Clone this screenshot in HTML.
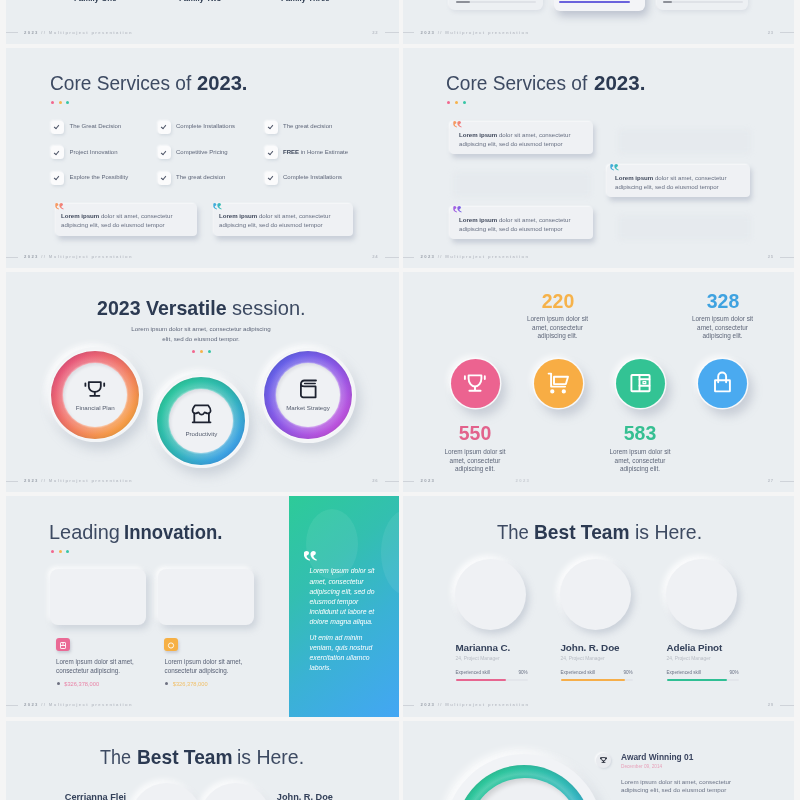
<!DOCTYPE html>
<html><head><meta charset="utf-8">
<style>
*{margin:0;padding:0;box-sizing:border-box}
html,body{width:800px;height:800px;overflow:hidden;background:#f5f5f5}
body{position:relative;font-family:"Liberation Sans",Arial,sans-serif;color:#3a475e}
.s{position:absolute;width:392.5px;height:220px;background:#eaeef1;overflow:hidden}
.L{left:6px}.R{left:402.5px;width:391.5px}
.a{position:absolute;white-space:nowrap}
.ttl{font-size:20.5px;color:#3d4a62;letter-spacing:0;transform-origin:0 0}
.ttl b{color:#2c3a52}
.ttl{line-height:1}
.tb{font-weight:bold;color:#2c3a52}
.dots{position:absolute;height:3px}
.dots i{position:absolute;top:0;width:3px;height:3px;border-radius:50%}
.ft{position:absolute;left:0;right:0;height:8px}
.ft .l1{position:absolute;left:-3px;top:3.6px;width:14.5px;height:0.8px;background:#cfd3d9}
.ft .l2{position:absolute;right:0;top:3.6px;width:14px;height:0.8px;background:#cfd3d9}
.ft .tx{position:absolute;left:18px;top:0;font-size:4.2px;font-weight:bold;letter-spacing:1.36px;color:#bcc0c8;line-height:8px}
.ft .tx b{color:#9ba1ab}
.ft .pn{position:absolute;right:20px;top:0;font-size:4.2px;font-weight:bold;color:#bcc0c8;line-height:8px;letter-spacing:0.8px}
.sm{font-size:5.3px;color:#6c7488;line-height:8.7px}

.ck{position:absolute;width:13px;height:13px;border-radius:3.5px;background:#fbfbfc;box-shadow:1px 1.5px 3px rgba(170,180,195,.35),-1px -1px 2px rgba(255,255,255,.8)}
.ck:after{content:"";position:absolute;left:4.8px;top:3.6px;width:2.2px;height:4px;border:solid #50576a;border-width:0 1.1px 1.1px 0;transform:rotate(40deg)}
.ckt{position:absolute;font-size:6px;color:#5f677a;white-space:nowrap;line-height:13px}
.ckt b{color:#3a4458}
.qc{position:absolute;border-radius:4px;background:#eff1f4;box-shadow:2px 3.5px 5px rgba(145,155,175,.38),-1px -1px 2px rgba(255,255,255,.9)}
.qm{position:absolute;font-family:"Liberation Serif",serif;font-weight:bold;font-size:21px;line-height:21px;letter-spacing:-1.2px;transform:scaleX(-1);-webkit-background-clip:text;background-clip:text;-webkit-text-fill-color:transparent}
.qt{position:absolute;font-size:6.1px;line-height:9.4px;color:#666e81;white-space:nowrap}
.qt b{color:#3e475a}

.cw{position:absolute;border-radius:50%}
.cw .o{position:absolute;left:-47.5px;top:-47.5px;width:95px;height:95px;border-radius:50%;background:#f3f5f7;box-shadow:4px 7px 12px rgba(150,160,178,.36),-3px -3px 6px rgba(255,255,255,.9)}
.cw .r{position:absolute;left:-44px;top:-44px;width:88px;height:88px;border-radius:50%;box-shadow:0 0 1.5px 1px rgba(255,255,255,.5)}
.cw .n{position:absolute;left:-32px;top:-32px;width:64px;height:64px;border-radius:50%;background:#eff1f4;box-shadow:inset 1.5px 2px 3px rgba(60,60,90,.10),0 0 2px 1px rgba(255,255,255,.55)}
.cw .lb{position:absolute;left:-30px;width:60px;text-align:center;font-size:6.2px;color:#555d6e;top:10px;line-height:5px}
.cw svg{position:absolute}
.sub{position:absolute;font-size:6.2px;color:#5e6679;text-align:center;line-height:9.5px;white-space:nowrap}

.bc{position:absolute;width:49px;height:49px;border-radius:50%;box-shadow:0 0 0 1.5px rgba(250,251,252,.9),5px 7px 10px 1px rgba(140,150,170,.36),-3px -3px 6px rgba(255,255,255,.8)}
.bc svg{position:absolute;left:0;top:0}
.num{position:absolute;width:80px;text-align:center;font-size:20.5px;font-weight:bold;line-height:20px;transform:scaleX(.95)}
.nt{position:absolute;width:80px;text-align:center;font-size:6.4px;color:#5f677a;line-height:8.75px;white-space:nowrap}

.nc{position:absolute;border-radius:8px;background:#eff1f4;box-shadow:3px 4px 7px rgba(150,160,178,.35),-2px -2px 5px rgba(255,255,255,.95)}
.sq{position:absolute;width:14px;height:13px;border-radius:3px;box-shadow:1px 2px 3px rgba(150,150,170,.4)}
.pt{position:absolute;font-size:6.3px;color:#596175;line-height:9px;white-space:nowrap}
.pr{position:absolute;font-size:5.7px;line-height:6px;white-space:nowrap}
.pr:before{content:"";position:absolute;left:-7.6px;top:1.3px;width:3.2px;height:3.2px;border-radius:50%;background:#6d7080}
.gp{position:absolute;left:282.5px;top:0;width:110px;height:221px;background:linear-gradient(140deg,#2dcb98 0%,#33bfb0 33%,#3ab2d4 62%,#43a6f4 100%);overflow:hidden}
.gq{position:absolute;font-size:6.8px;line-height:10.2px;color:#fff;font-style:italic;white-space:nowrap}
.pc{position:absolute;width:72.5px;height:72.5px;border-radius:50%;background:#eff1f4;box-shadow:3px 4px 7px rgba(150,160,178,.38),-3px -3px 6px rgba(255,255,255,.95)}
.nm{position:absolute;font-size:9.9px;letter-spacing:-.12px;font-weight:bold;color:#34415a;white-space:nowrap;line-height:11px}
.rl{position:absolute;font-size:4.9px;color:#b8bcc4;white-space:nowrap;line-height:5px}
.sk{position:absolute;font-size:4.6px;color:#6b7285;white-space:nowrap;line-height:5px}
.bar{position:absolute;height:1.8px;border-radius:1px}
.cw .r:after{content:"";position:absolute;inset:0;border-radius:50%;background:radial-gradient(circle,rgba(255,255,255,0) 31px,rgba(255,255,255,.16) 35px,rgba(255,255,255,0) 40px,rgba(0,0,0,.07) 44px)}
</style></head><body>

<!-- ROW 1 -->
<div class="s L" style="top:-176.5px">
  <div class="a" style="left:68px;top:170.5px;font-size:7.9px;font-weight:bold;color:#2d3a4f">Family One</div>
  <div class="a" style="left:173px;top:170.5px;font-size:7.9px;font-weight:bold;color:#2d3a4f">Family Two</div>
  <div class="a" style="left:275px;top:170.5px;font-size:7.9px;font-weight:bold;color:#2d3a4f">Family Three</div>
  <div class="ft" style="top:205px"><div class="l1"></div><div class="tx"><b>2023</b> // Multiproject presentation</div><div class="pn">22</div><div class="l2"></div></div>
</div>
<div class="s R" style="top:-176.5px">
  <div class="qc" style="left:46.5px;top:120px;width:94px;height:66.5px;border-radius:6px;background:#edf0f3;box-shadow:1px 2px 4px rgba(160,170,185,.22),-1px -1px 2px rgba(255,255,255,.8)"></div>
  <div class="bar" style="left:53.5px;top:177.5px;width:80px;height:1.6px;background:#dfe2e7"></div>
  <div class="bar" style="left:53.5px;top:177.5px;width:14px;height:1.6px;background:#8d9098"></div>
  <div class="qc" style="left:151px;top:120px;width:91.5px;height:67px;border-radius:6px;background:#f3f4f7;box-shadow:3px 5px 8px rgba(130,140,165,.45),-2px -2px 4px rgba(255,255,255,.9)"></div>
  <div class="bar" style="left:156.5px;top:177.2px;width:71px;height:2.2px;background:#6a62dc"></div>
  <div class="qc" style="left:254.5px;top:120px;width:91px;height:66px;border-radius:6px;background:#edf0f3;box-shadow:1px 2px 4px rgba(160,170,185,.22),-1px -1px 2px rgba(255,255,255,.8)"></div>
  <div class="bar" style="left:260px;top:177.5px;width:80px;height:1.6px;background:#dfe2e7"></div>
  <div class="bar" style="left:260px;top:177.5px;width:9px;height:1.6px;background:#8d9098"></div>
  <div class="ft" style="top:205px"><div class="l1"></div><div class="tx"><b>2023</b> // Multiproject presentation</div><div class="pn">23</div><div class="l2"></div></div>
</div>

<!-- ROW 2 -->
<div class="s L" style="top:48px">
  <div class="a ttl" style="left:43.57px;top:24.70px;transform:scaleX(0.932)">Core Services of</div>
  <div class="a ttl tb" style="left:191.12px;top:24.70px;transform:scaleX(0.984)">2023.</div>
  <div class="dots" style="left:44.5px;top:53px"><i style="left:0;background:#f2678e"></i><i style="left:8px;background:#f7b24c"></i><i style="left:15.5px;background:#37c5a5"></i></div>
  <div class="ck" style="left:44.5px;top:72.5px"></div><div class="ckt" style="left:63.5px;top:72.1px">The Great Decision</div>
  <div class="ck" style="left:44.5px;top:98.0px"></div><div class="ckt" style="left:63.5px;top:97.6px">Project Innovation</div>
  <div class="ck" style="left:44.5px;top:123.5px"></div><div class="ckt" style="left:63.5px;top:123.1px">Explore the Possibility</div>
  <div class="ck" style="left:151.5px;top:72.5px"></div><div class="ckt" style="left:170px;top:72.1px">Complete Installations</div>
  <div class="ck" style="left:151.5px;top:98.0px"></div><div class="ckt" style="left:170px;top:97.6px">Competitive Pricing</div>
  <div class="ck" style="left:151.5px;top:123.5px"></div><div class="ckt" style="left:170px;top:123.1px">The great decision</div>
  <div class="ck" style="left:258.5px;top:72.5px"></div><div class="ckt" style="left:277px;top:72.1px">The great decision</div>
  <div class="ck" style="left:258.5px;top:98.0px"></div><div class="ckt" style="left:277px;top:97.6px"><b>FREE</b> in Home Estimate</div>
  <div class="ck" style="left:258.5px;top:123.5px"></div><div class="ckt" style="left:277px;top:123.1px">Complete Installations</div>
  <div class="qc" style="left:50px;top:156px;width:141px;height:32px"></div>
  <div class="qm" style="left:49px;top:152px;background-image:linear-gradient(90deg,#ef6f86,#f7a257)">&#8221;</div>
  <div class="qt" style="left:55px;top:163px"><b>Lorem ipsum</b> dolor sit amet, consectetur<br>adipiscing elit, sed do eiusmod tempor</div>
  <div class="qc" style="left:208px;top:156px;width:139px;height:32px"></div>
  <div class="qm" style="left:207px;top:152px;background-image:linear-gradient(90deg,#33c3a6,#45a5e6)">&#8221;</div>
  <div class="qt" style="left:213px;top:163px"><b>Lorem ipsum</b> dolor sit amet, consectetur<br>adipiscing elit, sed do eiusmod tempor</div>
  <div class="ft" style="top:205px"><div class="l1"></div><div class="tx"><b>2023</b> // Multiproject presentation</div><div class="pn">24</div><div class="l2"></div></div>
</div>
<div class="s R" style="top:48px">
  <div class="a ttl" style="left:43.97px;top:24.70px;transform:scaleX(0.932)">Core Services of</div>
  <div class="a ttl tb" style="left:191.50px;top:24.70px;transform:scaleX(1.002)">2023.</div>
  <div class="dots" style="left:44.5px;top:53px"><i style="left:0;background:#f2678e"></i><i style="left:8px;background:#f7b24c"></i><i style="left:15.5px;background:#37c5a5"></i></div>
  <div class="qc" style="left:215px;top:81px;width:133px;height:25px;background:rgba(195,202,214,.1);box-shadow:none;filter:blur(3px)"></div>
  <div class="qc" style="left:50px;top:124px;width:138px;height:25px;background:rgba(195,202,214,.1);box-shadow:none;filter:blur(3px)"></div>
  <div class="qc" style="left:215px;top:167px;width:133px;height:25px;background:rgba(195,202,214,.1);box-shadow:none;filter:blur(3px)"></div>
  <div class="qc" style="left:47.5px;top:74px;width:143px;height:32px"></div>
  <div class="qm" style="left:50px;top:70px;background-image:linear-gradient(90deg,#ef6f86,#f7a257)">&#8221;</div>
  <div class="qt" style="left:56.5px;top:82px"><b>Lorem ipsum</b> dolor sit amet, consectetur<br>adipiscing elit, sed do eiusmod tempor</div>
  <div class="qc" style="left:204.5px;top:116.5px;width:143px;height:32.5px"></div>
  <div class="qm" style="left:207px;top:112.5px;background-image:linear-gradient(90deg,#33c3a6,#45a5e6)">&#8221;</div>
  <div class="qt" style="left:212.5px;top:124.5px"><b>Lorem ipsum</b> dolor sit amet, consectetur<br>adipiscing elit, sed do eiusmod tempor</div>
  <div class="qc" style="left:47.5px;top:159px;width:143px;height:32px"></div>
  <div class="qm" style="left:50px;top:155px;background-image:linear-gradient(90deg,#6b63e6,#b05ee0)">&#8221;</div>
  <div class="qt" style="left:56.5px;top:167px"><b>Lorem ipsum</b> dolor sit amet, consectetur<br>adipiscing elit, sed do eiusmod tempor</div>
  <div class="ft" style="top:205px"><div class="l1"></div><div class="tx"><b>2023</b> // Multiproject presentation</div><div class="pn">25</div><div class="l2"></div></div>
</div>

<!-- ROW 3 -->
<div class="s L" style="top:272.25px">
  <div class="a ttl tb" style="left:91.04px;top:25.55px;transform:scaleX(0.955)">2023 Versatile</div>
  <div class="a ttl" style="left:225.72px;top:25.55px;transform:scaleX(0.979)">session.</div>
  <div class="sub" style="left:95px;width:200px;top:52px">Lorem ipsum dolor sit amet, consectetur adipiscing<br>elit, sed do eiusmod tempor.</div>
  <div class="dots" style="left:186px;top:78px"><i style="left:0;background:#f2678e"></i><i style="left:8px;background:#f7b24c"></i><i style="left:16px;background:#37c5a5"></i></div>
  <div class="cw" style="left:89.2px;top:122.5px"><div class="o"></div><div class="r" style="background:linear-gradient(135deg,#e5537f 10%,#f0726a 45%,#f7a540 90%)"></div><div class="n"></div><svg style="left:-11px;top:-14px" width="22" height="17" viewBox="0 0 22 17" fill="none" stroke="#1d2230" stroke-width="1.8" stroke-linecap="round" stroke-linejoin="round"><path d="M4.8 1.15H16.8V5.5A6 5.45 0 0 1 4.8 5.5Z"/><path d="M1.4 2.3V4.9M20.2 2.3V4.9"/><path d="M10.8 11V14.7M6.2 14.8H15.4"/></svg><div class="lb">Financial Plan</div></div>
  <div class="cw" style="left:195.4px;top:148.5px"><div class="o"></div><div class="r" style="background:linear-gradient(135deg,#2dc89b 10%,#30b7b5 50%,#3f9cee 90%)"></div><div class="n"></div><svg style="left:-10.5px;top:-16.5px" width="21" height="20" viewBox="0 0 21 20" fill="none" stroke="#1d2230" stroke-width="1.8" stroke-linecap="round" stroke-linejoin="round"><path d="M4.1 1.3H17.1C18.3 2.8 19.8 5 19.6 7C19.4 8.8 17.6 9.6 16 9.3C15 9.1 14.2 8.6 13.6 8.4C12.8 9.8 11.8 10.7 10.6 10.7C9.4 10.7 8.4 9.8 7.6 8.4C7 8.6 6.2 9.1 5.2 9.3C3.6 9.6 1.8 8.8 1.6 7C1.4 5 2.9 2.8 4.1 1.3Z"/><path d="M3.3 9.4V18.3M17.9 9.4V18.3M1.7 18.3H19.5"/></svg><div class="lb">Productivity</div></div>
  <div class="cw" style="left:302px;top:122.75px"><div class="o"></div><div class="r" style="background:linear-gradient(135deg,#5e62e8 10%,#8c57e6 50%,#c653dc 90%)"></div><div class="n"></div><svg style="left:-9.5px;top:-16px" width="19" height="20" viewBox="0 0 19 20" fill="none" stroke="#1d2230" stroke-width="1.8" stroke-linecap="round" stroke-linejoin="round"><path d="M17 1.5H5.4C3.4 1.5 1.9 3 1.9 4.9V16A2.3 2.3 0 0 0 4.2 18.3H16.6V7.4H5.2C3.4 7.4 1.9 6.2 1.9 4.9"/><path d="M5.6 4.5H16.2" stroke-width="1.5"/></svg><div class="lb">Market Strategy</div></div>

  <div class="ft" style="top:205px"><div class="l1"></div><div class="tx"><b>2023</b> // Multiproject presentation</div><div class="pn">26</div><div class="l2"></div></div>
</div>
<div class="s R" style="top:272.25px">
  
  <div class="bc" style="left:48.5px;top:86.75px;background:#ec6390"><svg width="49" height="49" viewBox="0 0 49 49" fill="none" stroke="#fff" stroke-width="1.9" stroke-linecap="round" stroke-linejoin="round"><path d="M17.6 16.4H30.4V19.5A6.4 8 0 0 1 17.6 19.5Z"/><path d="M13.9 17.2V20M33.8 17.2V20"/><path d="M24 27.8V31.2M18.4 31.7H29.6"/></svg></div>
  <div class="bc" style="left:131px;top:86.75px;background:#f8ad44"><svg width="49" height="49" viewBox="0 0 49 49" fill="none" stroke="#fff" stroke-width="1.9" stroke-linecap="round" stroke-linejoin="round"><path d="M14.6 14.6H17.1V27.6H31.1"/><path d="M20 17.7H34L31.9 25.1H20Z"/><circle cx="18.3" cy="32.4" r="1.2" fill="#fff"/><circle cx="29.8" cy="32.4" r="1.2" fill="#fff"/></svg></div>
  <div class="bc" style="left:213px;top:86.75px;background:#33c394"><svg width="49" height="49" viewBox="0 0 49 49" fill="none" stroke="#fff" stroke-width="1.9" stroke-linecap="round" stroke-linejoin="round"><rect x="15.4" y="16" width="18.2" height="16.2" rx=".8"/><path d="M23.5 17V31.2"/><path d="M23.5 20.3H33.4M23.5 26.8H33.4"/><rect x="27" y="22.6" width="2.8" height="2" stroke-width="1.2"/></svg></div>
  <div class="bc" style="left:295.5px;top:86.75px;background:#4aaaf0"><svg width="49" height="49" viewBox="0 0 49 49" fill="none" stroke="#fff" stroke-width="1.9" stroke-linecap="round" stroke-linejoin="round"><rect x="17" y="21.2" width="14.9" height="11.2" rx=".4"/><path d="M20.2 23.2V17.4a3.95 3.95 0 0 1 7.9 0V23.2"/></svg></div>
  <div class="num" style="left:115px;top:18.5px;color:#f6b24a">220</div>
  <div class="nt" style="left:115px;top:42.7px">Lorem ipsum dolor sit<br>amet, consectetur<br>adipiscing elit.</div>
  <div class="num" style="left:280px;top:18.5px;color:#3fa2e0">328</div>
  <div class="nt" style="left:280px;top:42.7px">Lorem ipsum dolor sit<br>amet, consectetur<br>adipiscing elit.</div>
  <div class="num" style="left:32.5px;top:151px;color:#e2628c">550</div>
  <div class="nt" style="left:32.5px;top:175.7px">Lorem ipsum dolor sit<br>amet, consectetur<br>adipiscing elit.</div>
  <div class="num" style="left:197.5px;top:151px;color:#36bf92">583</div>
  <div class="nt" style="left:197.5px;top:175.7px">Lorem ipsum dolor sit<br>amet, consectetur<br>adipiscing elit.</div>
  <div class="ft" style="top:205px"><div class="l1"></div><div class="tx"><b>2023</b></div><div class="tx" style="left:113px;color:#c8ccd3">2023</div><div class="pn">27</div><div class="l2"></div></div>
</div>

<!-- ROW 4 -->
<div class="s L" style="top:496.25px;height:221px">
  <div class="a ttl" style="left:42.56px;top:25.95px;transform:scaleX(0.971)">Leading</div>
  <div class="a ttl tb" style="left:118.10px;top:25.95px;transform:scaleX(0.900)">Innovation.</div>
  <div class="dots" style="left:44.5px;top:53.5px"><i style="left:0;background:#f2678e"></i><i style="left:8px;background:#f7b24c"></i><i style="left:15.5px;background:#37c5a5"></i></div>
  <div class="nc" style="left:44px;top:72.35px;width:96px;height:56px"></div>
  <div class="nc" style="left:152px;top:72.35px;width:96px;height:56px"></div>
  <div class="sq" style="left:49.8px;top:141.35px;background:#ea6a95"><svg width="14" height="13" viewBox="0 0 14 13" fill="none" stroke="#fff" stroke-width=".9"><rect x="4.5" y="3.5" width="5" height="6" rx=".6"/><path d="M4.5 6.5h5M7 3.5v3"/></svg></div>
  <div class="sq" style="left:158px;top:141.35px;background:#f6b045"><svg width="14" height="13" viewBox="0 0 14 13" fill="none" stroke="#fff" stroke-width=".9"><circle cx="7" cy="6.5" r="2.6"/></svg></div>
  <div class="pt" style="left:50px;top:160.25px">Lorem ipsum dolor sit amet,<br>consectetur adipiscing.</div>
  <div class="pt" style="left:158.5px;top:160.25px">Lorem ipsum dolor sit amet,<br>consectetur adipiscing.</div>
  <div class="pr" style="left:58.3px;top:184.5px;color:#e985a8">$326,378,000</div>
  <div class="pr" style="left:166.8px;top:184.5px;color:#f1c06a">$326,378,000</div>
  <div class="gp">
    <div style="position:absolute;left:17px;top:13px;width:52px;height:70px;border-radius:50%;background:rgba(255,255,255,.07)"></div>
    <div style="position:absolute;left:92px;top:14px;width:50px;height:85px;border-radius:50%;background:rgba(255,255,255,.07)"></div>
    <div class="qm" style="left:15px;top:49.5px;background-image:linear-gradient(#fff,#fff);font-size:31px;line-height:31px;letter-spacing:-1.8px">&#8221;</div>
    <div class="gq" style="left:21px;top:70.2px">Lorem ipsum dolor sit<br>amet, consectetur<br>adipiscing elit, sed do<br>eiusmod tempor<br>incididunt ut labore et<br>dolore magna aliqua.</div>
    <div class="gq" style="left:21px;top:136.5px">Ut enim ad minim<br>veniam, quis nostrud<br>exercitation ullamco<br>laboris.</div>
  </div>

  <div class="ft" style="top:205px"><div class="l1"></div><div class="tx"><b>2023</b> // Multiproject presentation</div></div>
</div>
<div class="s R" style="top:496.25px;height:221px">
  <div class="a ttl" style="left:94.40px;top:25.95px;transform:scaleX(0.903)">The</div>
  <div class="a ttl tb" style="left:131.97px;top:25.95px;transform:scaleX(0.935)">Best Team</div>
  <div class="a ttl" style="left:232.35px;top:25.95px;transform:scaleX(0.950)">is Here.</div>
  <div class="pc" style="left:52.00px;top:63px;width:71px;height:71px"></div>
  <div class="nm" style="left:53.0px;top:145.5px">Marianna C.</div>
  <div class="rl" style="left:53.0px;top:159.5px">24, Project Manager</div>
  <div class="sk" style="left:53.0px;top:173.6px">Experienced skill</div>
  <div class="sk" style="left:116.0px;top:173.6px">90%</div>
  <div class="bar" style="left:53.0px;top:182.5px;width:72px;background:#e3e6eb"></div>
  <div class="bar" style="left:53.0px;top:182.5px;width:50px;background:#e76690"></div>
  <div class="pc" style="left:157.00px;top:63px;width:71px;height:71px"></div>
  <div class="nm" style="left:158.0px;top:145.5px">John. R. Doe</div>
  <div class="rl" style="left:158.0px;top:159.5px">24, Project Manager</div>
  <div class="sk" style="left:158.0px;top:173.6px">Experienced skill</div>
  <div class="sk" style="left:221.0px;top:173.6px">90%</div>
  <div class="bar" style="left:158.0px;top:182.5px;width:72px;background:#e3e6eb"></div>
  <div class="bar" style="left:158.0px;top:182.5px;width:64px;background:#f6ae4a"></div>
  <div class="pc" style="left:263.00px;top:63px;width:71px;height:71px"></div>
  <div class="nm" style="left:264.0px;top:145.5px">Adelia Pinot</div>
  <div class="rl" style="left:264.0px;top:159.5px">24, Project Manager</div>
  <div class="sk" style="left:264.0px;top:173.6px">Experienced skill</div>
  <div class="sk" style="left:327.0px;top:173.6px">90%</div>
  <div class="bar" style="left:264.0px;top:182.5px;width:72px;background:#e3e6eb"></div>
  <div class="bar" style="left:264.0px;top:182.5px;width:60px;background:#30bf94"></div>
  <div class="ft" style="top:205px"><div class="l1"></div><div class="tx"><b>2023</b> // Multiproject presentation</div><div class="pn">29</div><div class="l2"></div></div>
</div>

<!-- ROW 5 -->
<div class="s L" style="top:720.75px">
  <div class="a ttl" style="left:94.00px;top:26.35px;transform:scaleX(0.879)">The</div>
  <div class="a ttl tb" style="left:130.66px;top:26.35px;transform:scaleX(0.935)">Best Team</div>
  <div class="a ttl" style="left:231.05px;top:26.35px;transform:scaleX(0.950)">is Here.</div>
  <div class="pc" style="left:124.5px;top:61.75px;width:71px;height:71px;box-shadow:2px 3px 6px rgba(150,160,178,.25),-3px -3px 6px rgba(255,255,255,.9)"></div>
  <div class="pc" style="left:193.5px;top:61.75px;width:71px;height:71px;box-shadow:2px 3px 6px rgba(150,160,178,.25),-3px -3px 6px rgba(255,255,255,.9)"></div>
  <div class="nm" style="left:58.8px;top:71.5px;font-size:9.2px;letter-spacing:0">Cerrianna Flei</div>
  <div class="nm" style="left:270.8px;top:71.5px;font-size:9.2px;letter-spacing:0">John. R. Doe</div>
</div>
<div class="s R" style="top:720.75px">
  <div style="position:absolute;left:42.9px;top:33.25px;width:158px;height:158px;border-radius:50%;background:#f1f3f6;box-shadow:4px 6px 12px rgba(150,160,178,.35),-4px -4px 8px rgba(255,255,255,.95)"></div>
  <div style="position:absolute;left:53.9px;top:44.25px;width:136px;height:136px;border-radius:50%;background:radial-gradient(circle,rgba(255,255,255,0) 54px,rgba(255,255,255,.16) 59px,rgba(255,255,255,0) 64px,rgba(0,0,0,.07) 68px),linear-gradient(135deg,#2ec79a 15%,#33b9b9 50%,#3f9fee 90%)"></div>
  <div style="position:absolute;left:66.4px;top:56.75px;width:111px;height:111px;border-radius:50%;background:#eef0f3;box-shadow:inset 3px 3px 5px rgba(0,0,0,.13)"></div>
  <div style="position:absolute;left:193.5px;top:31.75px;width:15px;height:15px;border-radius:50%;background:#e9ebef;box-shadow:1px 1px 2px rgba(160,170,185,.3),-1px -1px 2px rgba(255,255,255,.8)"><svg style="position:absolute;left:4px;top:4.5px" width="7" height="6" viewBox="0 0 7 6" fill="none" stroke="#222836" stroke-width=".9" stroke-linecap="round"><path d="M1.5 .6h4v1.4a2 2 0 0 1-4 0z"/><path d="M.5 .8v1M6.5 .8v1M3.5 4v1M2 5.4h3"/></svg></div>
  <div class="nm" style="left:218.5px;top:31.5px;font-size:8.4px;letter-spacing:0;color:#3b4560">Award Winning 01</div>
  <div class="rl" style="left:218.5px;top:43px;color:#e7a3bb;font-size:4.7px">December 09, 2014</div>
  <div class="qt" style="left:218.5px;top:56.8px;font-size:6.2px;line-height:8.7px;color:#6a7285">Lorem ipsum dolor sit amet, consectetur<br>adipiscing elit, sed do eiusmod tempor</div>
</div>

</body></html>
